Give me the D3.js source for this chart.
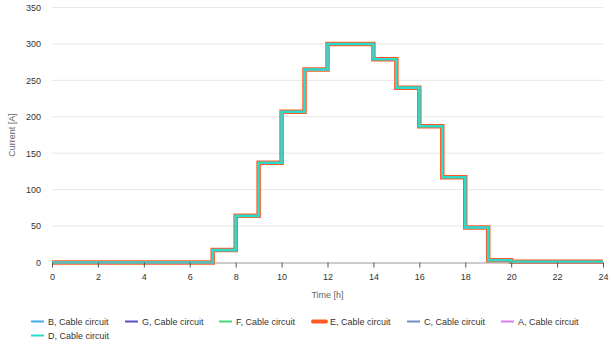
<!DOCTYPE html>
<html>
<head>
<meta charset="utf-8">
<script src="https://cdn.jsdelivr.net/npm/d3@7"></script>
<style>
  html, body { margin: 0; padding: 0; background: #fff; }
  svg { display: block; font-family: "Liberation Sans", Arial, sans-serif; }
</style>
</head>
<body>
<svg id="chart" width="611" height="357"></svg>
<script>
// ---- Data ----
const hours = [0,1,2,3,4,5,6,7,8,9,10,11,12,13,14,15,16,17,18,19,20,21,22,23,24];
const currentD = [0,0,0,0,0,0,0,17,64,137,207,265,300,300,279,240,187,117,48,3,1,1,1,1,1];
const currentE = [0,0,0,0,0,0,0,17,64,137,207,265,300,300,279,240,187,117,48,3,1,1,1,1,1];
const seriesNames = ["B, Cable circuit","G, Cable circuit","F, Cable circuit","E, Cable circuit","C, Cable circuit","A, Cable circuit","D, Cable circuit"];
const seriesColors = ["#3fa9f5","#5a4fc8","#45d67a","#ff5a26","#6e8fc0","#d77cf0","#2adccb"];
const seriesWidths = [2,2,2,4.5,1.5,1.5,2.6];
const seriesValues = [currentD, currentD, currentD, currentE, currentD, currentD, currentD];
const xTicks = [0,2,4,6,8,10,12,14,16,18,20,22,24];
const yTicks = [0,50,100,150,200,250,300,350];

// ---- Layout ----
const svg = d3.select("#chart");
const mLeft = 52, mRight = 603, mTop = 7.5, mBottom = 262.5;

const x = d3.scaleLinear().domain([0,24]).range([mLeft,mRight]);
const y = d3.scaleLinear().domain([0,350]).range([mBottom,mTop]);

// grid
svg.append("g").selectAll("line").data(yTicks.filter(d => d > 0)).join("line")
  .attr("x1", mLeft).attr("x2", mRight)
  .attr("y1", d => y(d)).attr("y2", d => y(d))
  .attr("stroke", "#e6e6e6").attr("stroke-width", 1);

// y axis labels
const yAxis = d3.axisLeft(y).tickValues(yTicks).tickSize(0).tickPadding(11);
const gy = svg.append("g").attr("transform", `translate(${mLeft},0)`).call(yAxis);
gy.select(".domain").remove();
gy.selectAll("text").attr("fill", "#333").style("font-size", "9px");

// series lines
const line = d3.line().x((d,i) => x(hours[i])).y(d => y(d)).curve(d3.curveStepAfter);
seriesNames.forEach((name, k) => {
  svg.append("path").datum(seriesValues[k])
    .attr("d", line)
    .attr("fill", "none")
    .attr("stroke", seriesColors[k])
    .attr("stroke-width", seriesWidths[k])
    .attr("stroke-linejoin", "miter");
});

// x axis
const xAxis = d3.axisBottom(x).tickValues(xTicks).tickSize(5).tickPadding(6).tickSizeOuter(0);
const gx = svg.append("g").attr("transform", `translate(0,${mBottom})`).call(xAxis);
gx.select(".domain").attr("stroke", "#999");
gx.selectAll(".tick line").attr("stroke", "#555");
gx.selectAll("text").attr("fill", "#333").style("font-size", "9px");

// axis titles
svg.append("text").attr("x", (mLeft+mRight)/2).attr("y", 298)
  .attr("text-anchor", "middle").attr("fill", "#666").style("font-size", "9px").text("Time [h]");
svg.append("text").attr("transform", `translate(15,${(mTop+mBottom)/2}) rotate(-90)`)
  .attr("text-anchor", "middle").attr("fill", "#666").style("font-size", "9px").text("Current [A]");

// legend
const legend = svg.append("g");
seriesNames.forEach((name, k) => {
  const col = k % 6, row = Math.floor(k / 6);
  const lx = 31 + col * 94, ly = 321.5 + row * 14;
  const g = legend.append("g").attr("transform", `translate(${lx},${ly})`);
  g.append("line").attr("x1", 0).attr("x2", 13).attr("y1", 0).attr("y2", 0)
    .attr("stroke", seriesColors[k]).attr("stroke-width", k === 3 ? 4 : 2)
    .attr("stroke-linecap", k === 3 ? "round" : "butt");
  g.append("text").attr("x", 17).attr("y", 3.2).attr("fill", "#333")
    .style("font-size", "9px").text(name);
});
</script>
</body>
</html>
